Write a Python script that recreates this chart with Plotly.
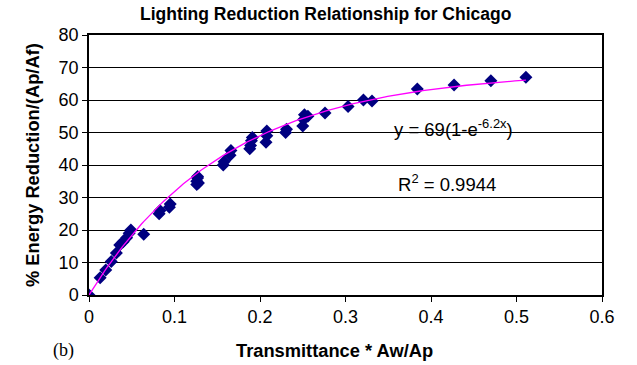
import numpy as np
import plotly.graph_objects as go

# Data
x_vals = [0, 0.013, 0.0196, 0.026, 0.032, 0.036, 0.040, 0.044, 0.047, 0.049, 0.064,
          0.082, 0.083, 0.094, 0.095,
          0.126, 0.126, 0.127, 0.127, 0.128,
          0.157, 0.158, 0.165, 0.166,
          0.188, 0.189, 0.190, 0.191,
          0.207, 0.208, 0.208, 0.230, 0.231,
          0.250, 0.251, 0.252, 0.256, 0.276, 0.303, 0.321, 0.331,
          0.384, 0.427, 0.470, 0.511]
y_vals = [0, 5.3, 7.7, 10.3, 12.9, 15.4, 16.4, 17.6, 19.0, 20.0, 18.7,
          25.0, 26.0, 27.0, 28.0,
          34.0, 35.0, 36.0, 36.5, 34.5,
          40.0, 41.0, 43.0, 44.5,
          45.0, 46.0, 47.5, 48.5,
          47.0, 49.0, 50.5, 50.0, 51.0,
          52.0, 54.0, 55.5, 55.0, 56.0, 58.0, 60.0, 59.7,
          63.4, 64.6, 65.9, 67.0]

# Trendline parameters as shown on the chart: y = A(1 - e^(-k x))
fit_A = 69
fit_k = 6.2
fit_x = np.linspace(0, max(x_vals), 200)
fit_y = fit_A * (1 - np.exp(-fit_k * fit_x))

x_ticks = [0, 0.1, 0.2, 0.3, 0.4, 0.5, 0.6]
y_ticks = [0, 10, 20, 30, 40, 50, 60, 70, 80]

fig = go.Figure()
fig.add_trace(go.Scatter(x=x_vals, y=y_vals, mode="markers",
                         marker=dict(symbol="diamond", size=10, color="#000080",
                                     line=dict(width=0)),
                         showlegend=False))
fig.add_trace(go.Scatter(x=fit_x, y=fit_y, mode="lines",
                         line=dict(color="#FF00FF", width=1.3),
                         showlegend=False))

font_main = "Liberation Sans, Arial, sans-serif"

fig.update_layout(
    width=637, height=365,
    margin=dict(l=89, r=35, t=35, b=70),
    paper_bgcolor="white", plot_bgcolor="white",
    font=dict(family=font_main, size=18, color="black"),
    xaxis=dict(range=[0, 0.6], tickvals=x_ticks, ticktext=[str(v) for v in x_ticks],
               showgrid=False, zeroline=False,
               showline=True, linecolor="black", linewidth=1.5, mirror=True,
               ticks="outside", ticklen=5, tickcolor="black",
               tickfont=dict(size=18)),
    yaxis=dict(range=[0, 80], tickvals=y_ticks,
               showgrid=True, gridcolor="black", gridwidth=1, zeroline=False,
               showline=True, linecolor="black", linewidth=1.5, mirror=True,
               ticks="outside", ticklen=5, tickcolor="black",
               tickfont=dict(size=18)),
    annotations=[
        dict(text="<b>Lighting Reduction Relationship for Chicago</b>",
             xref="paper", yref="paper", x=(325 - 89) / 513, y=1 + (35 - 14) / 260,
             xanchor="center", yanchor="middle", showarrow=False,
             font=dict(size=17.5)),
        dict(text="<b>% Energy Reduction/(Ap/Af)</b>", textangle=-90,
             xref="paper", yref="paper", x=-(89 - 32) / 513, y=0.5,
             xanchor="center", yanchor="middle", showarrow=False,
             font=dict(size=18.3)),
        dict(text="<b>Transmittance * Aw/Ap</b>",
             xref="paper", yref="paper", x=(334 - 89) / 513, y=-(350 - 295) / 260,
             xanchor="center", yanchor="middle", showarrow=False,
             font=dict(size=18.3)),
        dict(text="(b)",
             xref="paper", yref="paper", x=(63 - 89) / 513, y=-(350 - 295) / 260,
             xanchor="center", yanchor="middle", showarrow=False,
             font=dict(size=18, family="Liberation Serif, Times New Roman, serif")),
        dict(text="y = 69(1-e<sup>-6.2x</sup>)",
             xref="paper", yref="paper", x=(453 - 89) / 513, y=(295 - 128) / 260,
             xanchor="center", yanchor="middle", showarrow=False,
             font=dict(size=18.5)),
        dict(text="R<sup>2</sup> = 0.9944",
             xref="paper", yref="paper", x=(447 - 89) / 513, y=(295 - 183) / 260,
             xanchor="center", yanchor="middle", showarrow=False,
             font=dict(size=18.5)),
    ],
)

fig.write_html("out.html")
